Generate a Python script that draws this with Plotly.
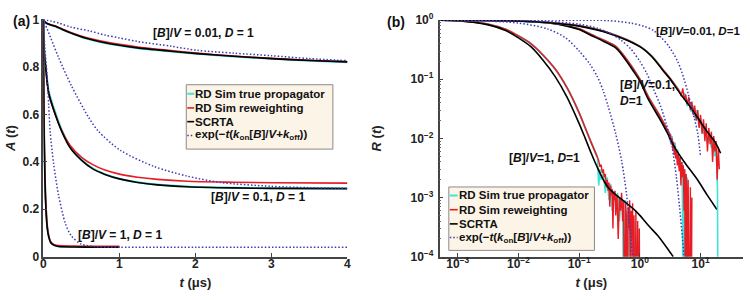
import plotly.graph_objects as go

# ================= DATA =================
# ---- Panel (a): A(t) vs t (linear) ----
# [B]/V = 0.01
ta_001 = [0, 0.02, 0.05, 0.1, 0.16, 0.25, 0.37, 0.55, 0.81, 1.0, 1.24, 1.68, 2.02, 2.5, 3.0, 3.5, 4.0]
A_001_scrta = [1, 0.99, 0.983, 0.977, 0.971, 0.958, 0.942, 0.922, 0.902, 0.891, 0.88, 0.866, 0.856, 0.845, 0.835, 0.827, 0.821]
A_001_rw = [1, 0.99, 0.983, 0.977, 0.972, 0.96, 0.944, 0.925, 0.906, 0.895, 0.884, 0.869, 0.858, 0.846, 0.836, 0.828, 0.822]
A_001_tp = [1, 0.99, 0.982, 0.976, 0.97, 0.957, 0.941, 0.921, 0.901, 0.89, 0.879, 0.865, 0.855, 0.844, 0.834, 0.826, 0.820]
ta_001_exp = [0, 0.1, 0.2, 0.37, 0.6, 0.81, 1.0, 1.24, 1.68, 2.02, 2.5, 3.0, 3.5, 4.0]
A_001_exp = [1, 0.993, 0.985, 0.967, 0.952, 0.934, 0.922, 0.907, 0.887, 0.87, 0.858, 0.847, 0.835, 0.826]

# [B]/V = 0.1
ta_01 = [0, 0.005, 0.015, 0.03, 0.07, 0.156, 0.243, 0.35, 0.5, 0.65, 0.81, 1.0, 1.24, 1.5, 1.89, 2.5, 3.0, 4.0]
A_01_scrta = [1, 0.92, 0.85, 0.8, 0.69, 0.6, 0.527, 0.46, 0.407, 0.37, 0.347, 0.328, 0.313, 0.303, 0.295, 0.29, 0.288, 0.287]
A_01_rw = [1, 0.92, 0.85, 0.8, 0.69, 0.6, 0.53, 0.47, 0.42, 0.388, 0.365, 0.348, 0.335, 0.326, 0.318, 0.314, 0.312, 0.31]
A_01_tp = [1, 0.93, 0.86, 0.81, 0.70, 0.61, 0.535, 0.465, 0.41, 0.372, 0.348, 0.329, 0.314, 0.304, 0.296, 0.291, 0.289, 0.288]
ta_01_exp = [0, 0.1, 0.2, 0.37, 0.59, 0.72, 1.02, 1.46, 1.89, 2.33, 2.98, 3.5, 4.0]
A_01_exp = [1, 0.92, 0.84, 0.72, 0.59, 0.53, 0.447, 0.38, 0.34, 0.313, 0.297, 0.291, 0.288]

# [B]/V = 1
ta_1 = [0, 0.002, 0.005, 0.01, 0.02, 0.03, 0.05, 0.07, 0.1, 0.15, 0.2, 0.4, 0.7, 1.0]
A_1_scrta = [1, 0.85, 0.7, 0.53, 0.34, 0.23, 0.125, 0.085, 0.058, 0.047, 0.043, 0.041, 0.04, 0.04]
A_1_rw = [1, 0.86, 0.71, 0.55, 0.36, 0.25, 0.135, 0.09, 0.062, 0.05, 0.047, 0.045, 0.044, 0.044]
A_1_tp = [1, 0.86, 0.71, 0.54, 0.35, 0.24, 0.13, 0.087, 0.059, 0.048, 0.044, 0.042, 0.041, 0.041]
ta_1_exp = [0, 0.02, 0.05, 0.07, 0.09, 0.135, 0.2, 0.29, 0.37, 0.5, 0.7, 1.0, 2.0, 4.0]
A_1_exp = [1, 0.88, 0.76, 0.64, 0.527, 0.393, 0.26, 0.14, 0.087, 0.053, 0.042, 0.04, 0.04, 0.04]

# ---- Panel (b): R(t) vs t (log-log) ----
# [B]/V = 1
tb_1 = [5e-4, 1e-3, 3.2e-3, 6.3e-3, 0.01, 0.016, 0.025, 0.04, 0.063, 0.1, 0.126, 0.158, 0.2, 0.25, 0.3, 0.4, 0.56, 0.8, 1.0, 1.41, 2.0, 3.55]
R_1_scrta = [1.0, 0.977, 0.83, 0.66, 0.5, 0.355, 0.214, 0.112, 0.05, 0.0178, 0.01, 0.0056, 0.0032, 0.002, 0.00148, 0.00112, 0.00085, 0.00063, 0.0005, 0.00033, 0.000224, 0.0001]
tb_1_sim = [5e-4, 1e-3, 3.2e-3, 6.3e-3, 0.01, 0.016, 0.025, 0.04, 0.063, 0.1, 0.126, 0.158, 0.2]
R_1_sim = [1.0, 0.98, 0.85, 0.69, 0.54, 0.4, 0.26, 0.15, 0.072, 0.027, 0.015, 0.0085, 0.0048]
tb_1_rw_noisy = [0.2, 0.21, 0.22, 0.23, 0.24, 0.25, 0.26, 0.27, 0.28, 0.29, 0.30, 0.31, 0.32, 0.33, 0.34, 0.35, 0.36, 0.37, 0.38, 0.39, 0.40, 0.42, 0.44, 0.46, 0.48, 0.50, 0.52, 0.54, 0.56, 0.58, 0.60, 0.62, 0.64, 0.66, 0.68, 0.70, 0.72, 0.74, 0.76, 0.78, 0.80, 0.83, 0.86, 0.89, 0.92, 0.95, 0.98, 1.0]
R_1_rw_noisy = [4.8e-3, 4.2e-3, 3.3e-3, 3.6e-3, 2.6e-3, 3.0e-3, 2.2e-3, 2.5e-3, 1.5e-3, 2.0e-3, 1.3e-3, 1.8e-3, 7e-4, 1.6e-3, 1.1e-3, 1.4e-3, 3e-4, 1.2e-3, 9e-4, 1.3e-3, 5e-4, 1.1e-3, 2e-4, 1.0e-3, 6e-4, 1.2e-3, 4e-4, 9e-4, 1e-6, 8e-4, 5e-4, 1e-6, 7e-4, 3e-4, 9e-4, 1e-6, 6e-4, 2e-4, 8e-4, 1e-6, 5e-4, 1e-6, 6e-4, 1e-6, 4e-4, 1e-6, 3e-4, 1e-6]
tb_1_tp_noisy = [0.2, 0.21, 0.22, 0.23, 0.25, 0.27, 0.29, 0.31, 0.33, 0.35, 0.37, 0.40, 0.43, 0.46, 0.49, 0.52, 0.55, 0.58, 0.61, 0.63, 0.66, 0.69, 0.72, 0.75, 0.80, 0.85]
R_1_tp_noisy = [4.8e-3, 1.6e-3, 3.0e-3, 2.0e-3, 2.6e-3, 1.2e-3, 2.2e-3, 9e-4, 1.7e-3, 6e-4, 1.3e-3, 8e-4, 1.2e-3, 4e-4, 1.0e-3, 7e-4, 1e-6, 9e-4, 1e-6, 6e-4, 1e-6, 1e-6, 5e-4, 1e-6, 4e-4, 1e-6]
tb_1_exp = [5e-4, 2e-3, 0.01, 0.03, 0.06, 0.1, 0.15, 0.2, 0.25, 0.3, 0.4, 0.5, 0.6, 0.7, 0.76]
R_1_exp = [1, 0.98, 0.89, 0.71, 0.5, 0.3, 0.18, 0.11, 0.063, 0.035, 0.012, 0.0042, 0.0012, 0.00025, 0.0001]

# [B]/V = 0.1
tb_01 = [5e-4, 3.2e-3, 0.01, 0.032, 0.063, 0.1, 0.158, 0.25, 0.4, 0.5, 0.63, 0.79, 1.0, 1.36, 2.24, 2.88, 3.7, 5.4, 8.9, 12.9, 18.6]
R_01_scrta = [1, 0.99, 0.966, 0.89, 0.79, 0.69, 0.55, 0.44, 0.34, 0.263, 0.19, 0.135, 0.093, 0.047, 0.0195, 0.012, 0.0072, 0.004, 0.002, 0.0011, 0.00063]
tb_01_sim = [5e-4, 3.2e-3, 0.01, 0.032, 0.063, 0.1, 0.158, 0.25, 0.4, 0.5, 0.63, 0.79, 1.0, 1.36, 2.24, 2.88]
R_01_sim = [1, 0.99, 0.967, 0.9, 0.8, 0.71, 0.57, 0.46, 0.36, 0.28, 0.205, 0.147, 0.1, 0.052, 0.022, 0.0135]
tb_01_rw_noisy = [2.88, 3.0, 3.1, 3.2, 3.3, 3.4, 3.5, 3.6, 3.7, 3.8, 3.9, 4.0, 4.15, 4.3, 4.45, 4.6, 4.75, 4.9, 5.05, 5.2, 5.35, 5.5, 5.65, 5.8, 5.95, 6.1, 6.25, 6.4, 6.6, 6.8, 7.0, 7.2]
R_01_rw_noisy = [0.0135, 0.013, 0.0095, 0.012, 0.0078, 0.010, 0.0065, 0.0088, 0.0052, 0.0075, 0.0046, 0.0062, 0.0035, 0.0055, 0.0028, 0.0048, 0.0016, 0.004, 0.0022, 0.0035, 0.0006, 0.003, 1e-6, 0.0025, 0.0012, 1e-6, 0.002, 0.0008, 1e-6, 0.0015, 1e-6, 0.001]
tb_01_tp_noisy = [2.88, 3.0, 3.2, 3.4, 3.6, 3.8, 4.0, 4.2, 4.4, 4.6, 4.8, 5.0, 5.2, 5.4, 5.6, 5.8, 6.0, 6.3]
R_01_tp_noisy = [0.0135, 0.012, 0.0085, 0.011, 0.006, 0.0085, 0.0045, 0.0065, 0.0032, 0.005, 0.0025, 0.004, 1e-6, 0.003, 0.0012, 1e-6, 0.0022, 1e-6]
tb_01_exp = [5e-4, 0.01, 0.03, 0.1, 0.2, 0.35, 0.5, 0.7, 1.0, 1.3, 1.7, 2.2, 2.7, 3.3, 4.0, 4.5, 5.0, 5.4]
R_01_exp = [1, 0.985, 0.953, 0.85, 0.73, 0.57, 0.45, 0.33, 0.2, 0.125, 0.066, 0.035, 0.018, 0.0085, 0.0022, 0.0007, 0.00022, 0.00009]

# [B]/V = 0.01
tb_001 = [5e-4, 3.2e-3, 0.01, 0.032, 0.1, 0.32, 1.0, 1.58, 2.4, 3.16, 4.47, 7.4, 12.3, 17.8, 21.4]
R_001_scrta = [1, 0.99, 0.966, 0.9, 0.79, 0.59, 0.355, 0.24, 0.141, 0.1, 0.06, 0.03, 0.0138, 0.0083, 0.0056]
tb_001_sim = [5e-4, 3.2e-3, 0.01, 0.032, 0.1, 0.32, 1.0, 1.58, 2.4, 3.16, 4.47]
R_001_sim = [1, 0.99, 0.967, 0.905, 0.8, 0.6, 0.36, 0.245, 0.145, 0.103, 0.063]
tb_001_rw_noisy = [4.47, 4.8, 5.1, 5.4, 5.7, 6.0, 6.4, 6.8, 7.2, 7.6, 8.0, 8.5, 9.0, 9.5, 10, 10.6, 11.2, 11.8, 12.4, 13, 13.7, 14.4, 15.1, 15.8, 16.5, 17.2, 18, 18.8, 19.6, 20.4]
R_001_rw_noisy = [0.063, 0.052, 0.07, 0.045, 0.055, 0.038, 0.05, 0.03, 0.042, 0.025, 0.036, 0.02, 0.03, 0.015, 0.025, 0.012, 0.021, 0.009, 0.018, 0.006, 0.015, 0.008, 0.013, 0.004, 0.011, 0.006, 0.009, 0.002, 0.007, 0.003]
tb_001_tp_noisy = [4.47, 5.0, 5.5, 6.0, 6.5, 7.0, 7.5, 8.0, 8.7, 9.4, 10, 11, 12, 13, 14, 15, 16, 17, 18, 19, 19.5]
R_001_tp_noisy = [0.063, 0.05, 0.058, 0.035, 0.045, 0.028, 0.036, 0.022, 0.03, 0.016, 0.022, 0.012, 0.016, 0.008, 0.012, 0.007, 0.0095, 0.005, 0.007, 0.0015, 1e-6]
tb_001_exp = [5e-4, 0.1, 0.3, 0.72, 1.2, 1.7, 2.24, 3.0, 4.2, 5.2, 6.2, 7.0, 7.9, 9.0, 10]
R_001_exp = [1, 0.995, 0.98, 0.885, 0.78, 0.66, 0.51, 0.36, 0.2, 0.11, 0.059, 0.035, 0.022, 0.012, 0.005]

# tick labels
a_xticks = [0, 1, 2, 3, 4]
a_yticks = [0, 0.2, 0.4, 0.6, 0.8, 1]
a_yticktext = ["0", "0.2", "0.4", "0.6", "0.8", "1"]
b_xticks = [1e-3, 1e-2, 1e-1, 1, 10]
b_xticktext = ["10<sup>−3</sup>", "10<sup>−2</sup>", "10<sup>−1</sup>", "10<sup>0</sup>", "10<sup>1</sup>"]
b_yticks = [1e-4, 1e-3, 1e-2, 1e-1, 1]
b_yticktext = ["10<sup>−4</sup>", "10<sup>−3</sup>", "10<sup>−2</sup>", "10<sup>−1</sup>", "10<sup>0</sup>"]

names = ["RD Sim true propagator", "RD Sim reweighting", "SCRTA",
         "exp(−<i>t</i>(<i>k</i><sub>on</sub>[<i>B</i>]/<i>V</i>+<i>k</i><sub>off</sub>))"]

# ================= STYLE =================
CYAN = "#3fe3d8"
RED = "#e81c24"
BLACK = "#000000"
BLUE = "#3a3ab8"
DOT = "1.5px,2px"
FONT = "Liberation Sans, Arial, sans-serif"
W, H = 750, 300

fig = go.Figure()


def add(x, y, color, xa, ya, name, dash="solid", shape="spline", width=1.6):
    fig.add_trace(go.Scatter(
        x=x, y=y, mode="lines", xaxis=xa, yaxis=ya, name=name,
        showlegend=False, hoverinfo="skip",
        line=dict(color=color, width=width, dash=dash, shape=shape,
                  smoothing=0.8 if shape == "spline" else None)))


# ---- panel (a) ----
groups_a = [
    (ta_001, A_001_tp, A_001_rw, A_001_scrta, ta_001_exp, A_001_exp),
    (ta_01, A_01_tp, A_01_rw, A_01_scrta, ta_01_exp, A_01_exp),
    (ta_1, A_1_tp, A_1_rw, A_1_scrta, ta_1_exp, A_1_exp),
]
for t, tp, rw, sc, te, ex in groups_a:
    add(t, tp, CYAN, "x", "y", names[0], width=2)
    add(t, rw, RED, "x", "y", names[1])
    add(t, sc, BLACK, "x", "y", names[2])
for t, tp, rw, sc, te, ex in groups_a:
    add(te, ex, BLUE, "x", "y", names[3], dash=DOT, width=1.5)

# ---- panel (b) ----
groups_b = [
    (tb_1_sim, R_1_sim, tb_1_tp_noisy, R_1_tp_noisy, tb_1_rw_noisy, R_1_rw_noisy, tb_1, R_1_scrta, tb_1_exp, R_1_exp),
    (tb_01_sim, R_01_sim, tb_01_tp_noisy, R_01_tp_noisy, tb_01_rw_noisy, R_01_rw_noisy, tb_01, R_01_scrta, tb_01_exp, R_01_exp),
    (tb_001_sim, R_001_sim, tb_001_tp_noisy, R_001_tp_noisy, tb_001_rw_noisy, R_001_rw_noisy, tb_001, R_001_scrta, tb_001_exp, R_001_exp),
]
for ts, rs, ttp, rtp, trw, rrw, tsc, rsc, te, re_ in groups_b:
    add(ts, rs, CYAN, "x2", "y2", names[0], width=2)
    add(ttp, rtp, CYAN, "x2", "y2", names[0], shape="linear", width=1.6)
    add(ts, rs, RED, "x2", "y2", names[1])
    add(trw, rrw, RED, "x2", "y2", names[1], shape="linear", width=1.4)
    add(tsc, rsc, BLACK, "x2", "y2", names[2])
for ts, rs, ttp, rtp, trw, rrw, tsc, rsc, te, re_ in groups_b:
    add(te, re_, BLUE, "x2", "y2", names[3], dash=DOT, width=1.5)

tickfont = dict(family=FONT, size=12, color="#222", weight="bold")
axcommon = dict(showline=True, linecolor="#444", linewidth=1.5, ticks="inside", ticklen=4,
                tickcolor="#444", tickwidth=1, showgrid=False, zeroline=False, mirror=False,
                tickfont=tickfont)
titlefont = dict(family=FONT, size=13, color="#222", weight="bold")
minor = dict(ticks="inside", ticklen=2, tickcolor="#666", dtick="D1", showgrid=False)

fig.update_layout(
    width=W, height=H,
    margin=dict(l=0, r=0, t=0, b=0),
    paper_bgcolor="white", plot_bgcolor="white",
    showlegend=False,
    font=dict(family=FONT, size=12, color="#222"),
    xaxis=dict(domain=[0.0543, 0.4636], range=[0, 4], tickvals=a_xticks, anchor="y",
               ticklabelstandoff=-5,
               title=dict(text="<i>t</i> (μs)", font=titlefont, standoff=8), **axcommon),
    yaxis=dict(domain=[0.1277, 0.9633], range=[0, 1], tickvals=a_yticks, ticktext=a_yticktext,
               anchor="x", title=dict(text="<i>A</i> (<i>t</i>)", font=titlefont, standoff=4), **axcommon),
    xaxis2=dict(domain=[0.5876, 0.996], type="log", range=[-3.3, 1.7], tickvals=b_xticks,
                ticktext=b_xticktext, anchor="y2", ticklabelstandoff=-5,
                title=dict(text="<i>t</i> (μs)", font=titlefont, standoff=8), **axcommon),
    yaxis2=dict(domain=[0.1277, 0.961], type="log", range=[-4, 0], tickvals=b_yticks,
                ticktext=b_yticktext, anchor="x2", minor=minor, ticklabelstandoff=2,
                title=dict(text="<i>R</i> (<i>t</i>)", font=titlefont, standoff=26), **axcommon),
)

# ---- legends (box + line samples + labels) ----
LEG_FILL = "#fdf4e8"
leg_styles = [(CYAN, "solid", 2), (RED, "solid", 1.6), (BLACK, "solid", 1.6), (BLUE, DOT, 1.5)]


def draw_legend(x0, y0, x1, y1, rows_y, sx0, sx1, tx):
    fig.add_shape(type="rect", xref="paper", yref="paper",
                  x0=x0 / W, x1=x1 / W, y0=1 - y1 / H, y1=1 - y0 / H,
                  fillcolor=LEG_FILL, line=dict(color="#8a8a8a", width=1), layer="above")
    for (col, dash, wd), ry, label in zip(leg_styles, rows_y, names):
        fig.add_shape(type="line", xref="paper", yref="paper",
                      x0=sx0 / W, x1=sx1 / W, y0=1 - ry / H, y1=1 - ry / H,
                      line=dict(color=col, width=wd, dash=dash), layer="above")
        fig.add_annotation(text=label, x=tx / W, y=1 - ry / H, xref="paper", yref="paper",
                           showarrow=False, xanchor="left", yanchor="middle", borderpad=0,
                           font=dict(family=FONT, size=11.5, color="#111", weight="bold"))


draw_legend(185, 80, 333, 148, [89.5, 104.5, 119, 133.5], 186, 193, 193)
draw_legend(450, 188, 597, 255, [197, 212, 227, 241.5], 451, 459, 459)

annfont = dict(family=FONT, size=12, color="#111", weight="bold")
anns = [
    dict(text="<b>(a)</b>", x=19, y=13, size=14, anchor="center"),
    dict(text="<b>(b)</b>", x=397, y=14, size=14, anchor="center"),
    dict(text="[<i>B</i>]/<i>V</i> = 0.01, <i>D</i> = 1", x=202, y=25, size=12, anchor="center"),
    dict(text="[<i>B</i>]/<i>V</i> = 0.1, <i>D</i> = 1", x=257, y=199, size=12, anchor="center"),
    dict(text="[<i>B</i>]/<i>V</i> = 1, <i>D</i> = 1", x=118, y=239, size=12, anchor="center"),
    dict(text="[<i>B</i>]/<i>V</i>=0.01, <i>D</i>=1", x=746, y=23, size=11.5, anchor="right"),
    dict(text="[<i>B</i>]/<i>V</i>=1, <i>D</i>=1", x=547, y=157, size=12, anchor="center"),
]
for a in anns:
    fig.add_annotation(text=a["text"], x=a["x"] / W, y=1 - a["y"] / H, xref="paper", yref="paper",
                       showarrow=False, xanchor=a["anchor"], yanchor="middle",
                       font=dict(family=FONT, size=a["size"], color="#111", weight="bold"))
fig.add_annotation(text="[<i>B</i>]/<i>V</i>=0.1,<br><i>D</i>=1", x=621 / W, y=1 - 89 / H,
                   xref="paper", yref="paper", showarrow=False, xanchor="left", yanchor="middle",
                   align="left", font=annfont)

fig.write_html("out.html", config={"displayModeBar": False},
               post_script="document.body.style.margin='0';document.body.style.overflow='hidden';")
